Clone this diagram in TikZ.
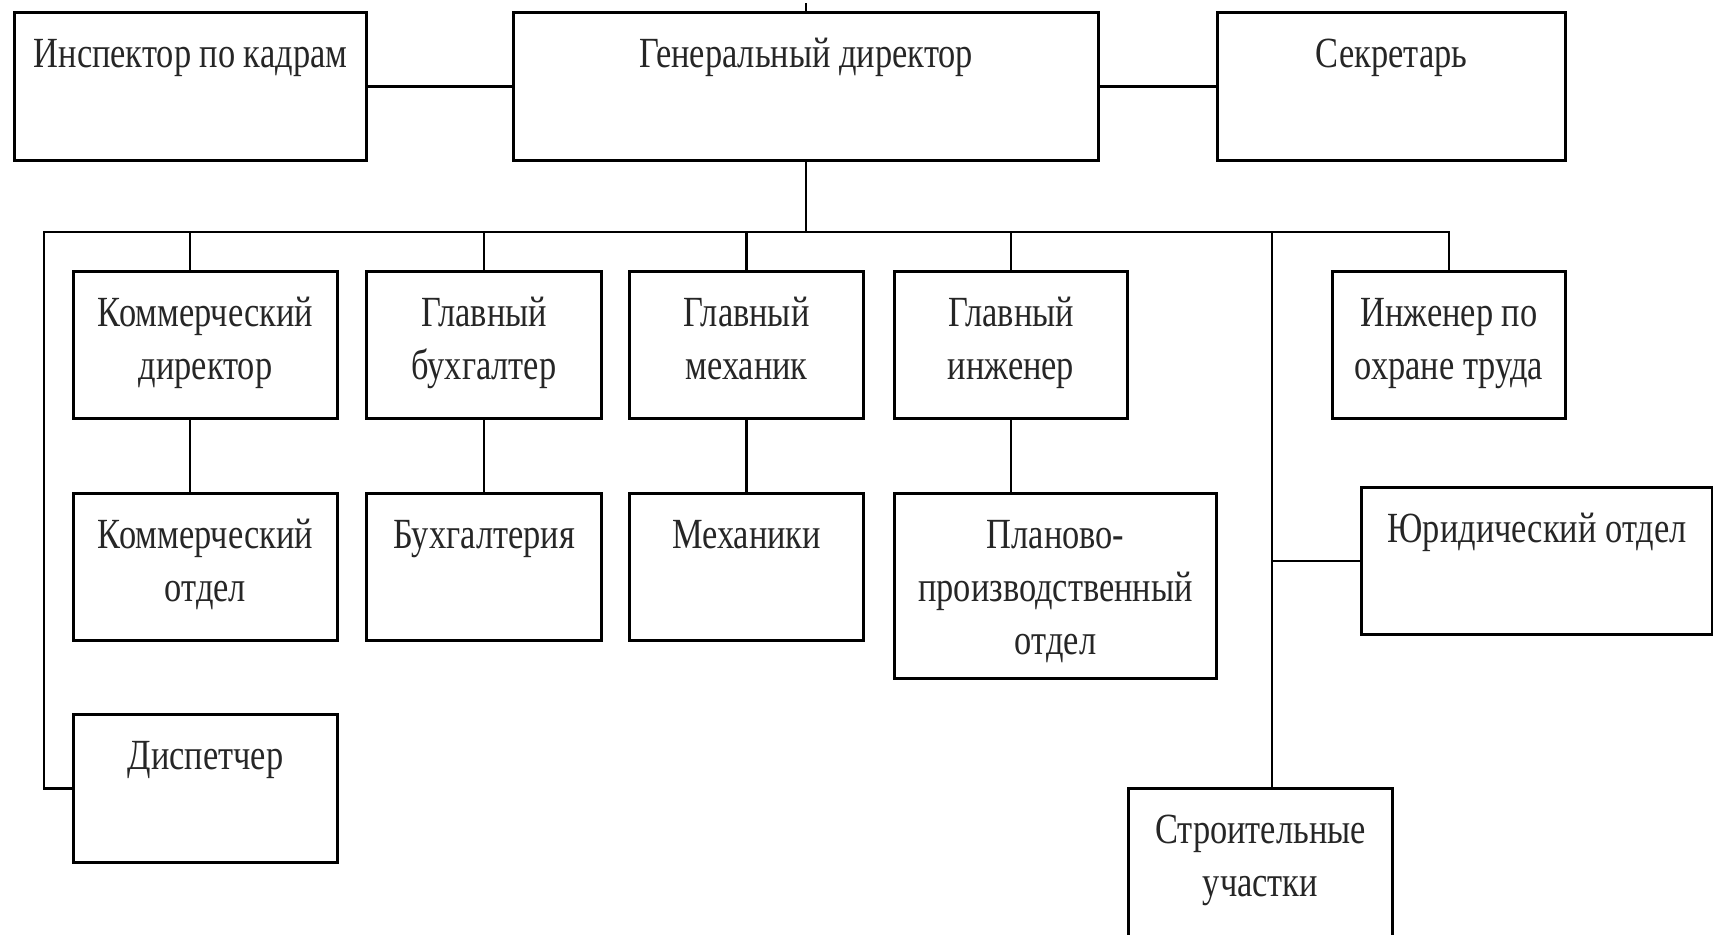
\documentclass[tikz,border=0pt]{standalone}
\usepackage{fontspec}
\setmainfont{Liberation Serif}[FakeStretch=0.8]
\newcommand\bxt[3]{\parbox[c][#2][t]{#1}{\centering\fontsize{21.5pt}{26.5pt}\selectfont\rule{0pt}{27.5pt}#3\par}}
\tikzset{
  orgbox/.style={draw, line width=1.5pt, inner sep=0pt, anchor=north west, text=black!85},
  conn/.style={draw, line width=1.4pt, line join=miter}
}
\begin{document}
\begin{tikzpicture}[x=0.5pt, y=-0.5pt]
\useasboundingbox (0,0) rectangle (1713,934);
% top row
\node[orgbox] (insp) at (13,11) {\bxt{176pt}{74pt}{Инспектор по кадрам}};
\node[orgbox] (gd) at (512,11) {\bxt{292.5pt}{74pt}{Генеральный директор}};
\node[orgbox] (sec) at (1216,11) {\bxt{174pt}{74pt}{Секретарь}};
% second row
\node[orgbox] (kd) at (72,270) {\bxt{132pt}{73.5pt}{Коммерческий\\директор}};
\node[orgbox] (gb) at (365,270) {\bxt{117.5pt}{73.5pt}{Главный\\бухгалтер}};
\node[orgbox] (gm) at (628,270) {\bxt{117pt}{73.5pt}{Главный\\механик}};
\node[orgbox] (gi) at (893,270) {\bxt{116.5pt}{73.5pt}{Главный\\инженер}};
\node[orgbox] (iot) at (1331,270) {\bxt{116.5pt}{73.5pt}{Инженер по\\охране труда}};
% third row
\node[orgbox] (ko) at (72,492) {\bxt{132pt}{73.5pt}{Коммерческий\\отдел}};
\node[orgbox] (buh) at (365,492) {\bxt{117.5pt}{73.5pt}{Бухгалтерия}};
\node[orgbox] (mech) at (628,492) {\bxt{117pt}{73.5pt}{Механики}};
\node[orgbox] (ppo) at (893,492) {\bxt{161pt}{92.5pt}{Планово-\\производственный\\отдел}};
\node[orgbox] (yur) at (1360,486) {\bxt{175.5pt}{73.5pt}{Юридический отдел}};
% bottom
\node[orgbox] (disp) at (72,713) {\bxt{132pt}{74pt}{Диспетчер}};
\node[orgbox] (su) at (1127,787) {\bxt{132pt}{75pt}{Строительные\\участки}};
% bus coordinates
\coordinate (busL) at (44,232);
\coordinate (tKD) at (190,232);
\coordinate (tR) at (1272,232);
% connectors
\draw[conn] (gd.north) -- ++(0,-8);
\draw[conn] (insp.east) -- (insp.east -| gd.west);
\draw[conn] (gd.east) -- (gd.east -| sec.west);
\draw[conn] (gd.south) -- (gd.south |- busL);
\draw[conn] (iot.north) |- (busL) |- (disp.west);
\draw[conn] (tKD) -- (tKD |- kd.north);
\draw[conn] (kd.south -| tKD) -- (ko.north -| tKD);
\draw[conn] (gb.north) -- (gb.north |- busL);
\draw[conn] (gb.south) -- (buh.north -| gb.south);
\draw[conn] (gm.north) -- (gm.north |- busL);
\draw[conn] (gm.south) -- (mech.north -| gm.south);
\draw[conn] (gi.north) -- (gi.north |- busL);
\draw[conn] (gi.south) -- (ppo.north -| gi.south);
\draw[conn] (tR) -- (tR |- su.north);
\draw[conn] (tR |- yur.west) -- (yur.west);
\end{tikzpicture}
\end{document}
